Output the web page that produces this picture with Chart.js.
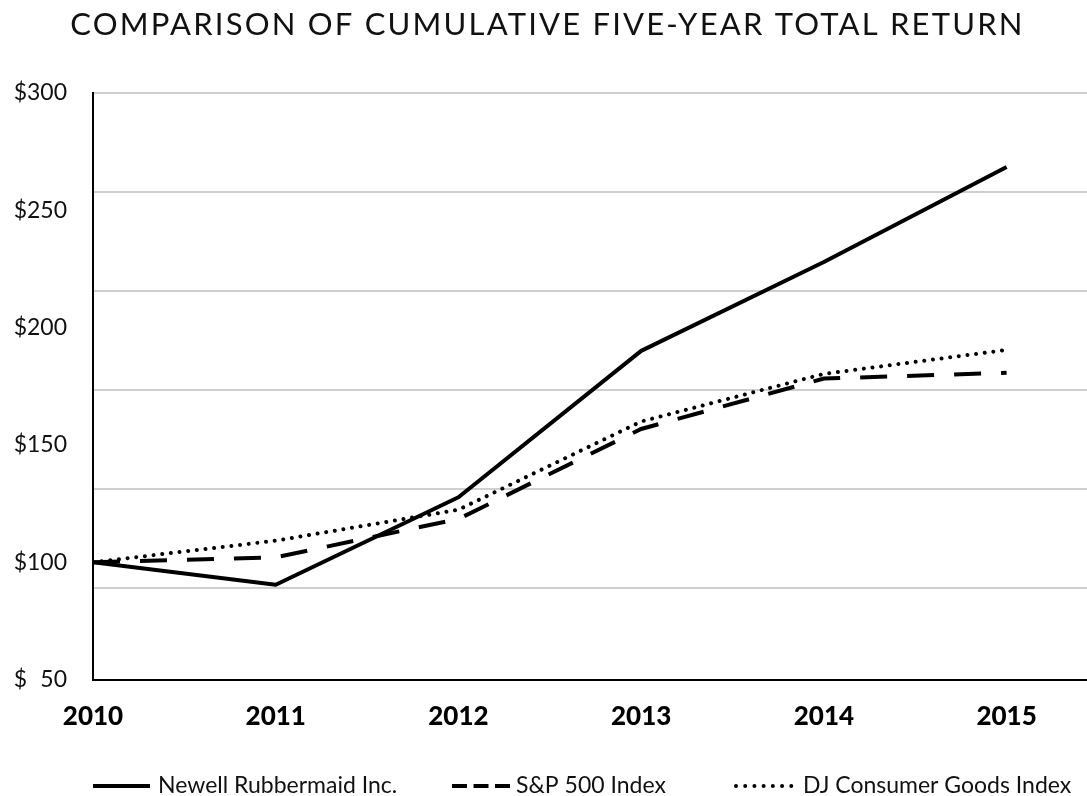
<!DOCTYPE html>
<html>
<head>
<meta charset="utf-8">
<script src="https://cdn.jsdelivr.net/npm/chart.js@4.4.1/dist/chart.umd.min.js"></script>
<style>
  html, body { margin: 0; padding: 0; background: #ffffff; }
  #wrap { width: 1087px; height: 796px; position: relative; }
</style>
</head>
<body>
<div id="wrap"><canvas id="c"></canvas></div>
<script>
// ---- data ----
const years = [2010, 2011, 2012, 2013, 2014, 2015];
const newell = [100, 90.4, 127.7, 190.1, 228.0, 268.5];
const sp500 = [100, 102.11, 118.45, 156.82, 178.29, 180.75];
const djConsumer = [100, 109.2, 122.4, 160.0, 180.3, 190.5];
const seriesNames = ['Newell Rubbermaid Inc.', 'S&P 500 Index', 'DJ Consumer Goods Index'];
const yTickValues = [50, 100, 150, 200, 250, 300];
const gridValues = [300, 257.8, 215.7, 173.5, 131.3, 89.2];
const titleText = 'COMPARISON OF CUMULATIVE FIVE-YEAR TOTAL RETURN';

const FONT = 'Lato, "Open Sans", sans-serif';

function points(vals) { return years.map((x, i) => ({ x: x, y: vals[i] })); }

// legend drawn at the bottom with line samples matching each series
const legendStyle = {
  y: 786,
  starts: [93, 452, 736],
  lengths: [57, 58, 57],
  textX: [158, 516, 803],
  dashes: [[], [15, 6.5], [0.01, 9.2]],
  caps: ['butt', 'butt', 'round'],
  fontSize: 23
};

const bottomLegend = {
  id: 'bottomLegend',
  afterDraw(chart) {
    const ctx = chart.ctx;
    const L = legendStyle;
    ctx.save();
    chart.data.datasets.forEach((ds, i) => {
      const x0 = L.starts[i];
      ctx.beginPath();
      ctx.setLineDash(L.dashes[i]);
      ctx.lineCap = L.caps[i];
      ctx.lineWidth = 4;
      ctx.strokeStyle = ds.borderColor;
      ctx.moveTo(x0, L.y);
      ctx.lineTo(x0 + L.lengths[i], L.y);
      ctx.stroke();
      ctx.setLineDash([]);
      ctx.fillStyle = '#111111';
      ctx.font = L.fontSize + 'px ' + FONT;
      ctx.textAlign = 'left';
      ctx.textBaseline = 'middle';
      ctx.fillText(ds.label, L.textX[i], L.y);
    });
    ctx.restore();
  }
};

// wider tracking for the title, like the reference typeface
const titleSpacing = {
  id: 'titleSpacing',
  beforeDraw(chart) {
    const t = chart.titleBlock;
    if (t && !t._spaced) {
      const orig = t.draw.bind(t);
      t.draw = function (area) {
        const ctx = chart.ctx;
        ctx.save();
        try { ctx.letterSpacing = '2.2px'; } catch (e) {}
        ctx.translate(4, 0);
        orig(area);
        ctx.restore();
      };
      t._spaced = true;
    }
  }
};

new Chart(document.getElementById('c'), {
  type: 'line',
  data: {
    datasets: [
      {
        label: seriesNames[0],
        data: points(newell),
        borderColor: '#000000',
        borderWidth: 4,
        borderJoinStyle: 'round',
        pointRadius: 0,
        tension: 0,
        yAxisID: 'y'
      },
      {
        label: seriesNames[1],
        data: points(sp500),
        borderColor: '#000000',
        borderWidth: 4,
        borderDash: [27, 20],
        pointRadius: 0,
        tension: 0,
        yAxisID: 'y'
      },
      {
        label: seriesNames[2],
        data: points(djConsumer),
        borderColor: '#000000',
        borderWidth: 4,
        borderDash: [0.01, 8.7],
        borderCapStyle: 'round',
        pointRadius: 0,
        tension: 0,
        yAxisID: 'y'
      }
    ]
  },
  options: {
    responsive: true,
    maintainAspectRatio: false,
    animation: false,
    layout: { padding: { left: 0, right: 0, top: 0, bottom: 42 } },
    plugins: {
      legend: { display: false },
      tooltip: { enabled: false },
      title: {
        display: true,
        text: titleText,
        color: '#111111',
        font: { family: FONT, size: 31, weight: 'normal' },
        padding: { top: 6, bottom: 49.8 }
      }
    },
    scales: {
      x: {
        type: 'linear',
        min: 2010,
        max: 2015.44,
        afterBuildTicks: s => { s.ticks = years.map(v => ({ value: v })); },
        grid: { display: false, drawTicks: false },
        border: { display: true, color: '#000000', width: 2 },
        ticks: {
          padding: 21.6,
          color: '#000000',
          autoSkip: false,
          maxRotation: 0,
          font: { family: FONT, size: 26, weight: 900 },
          callback: v => String(v)
        }
      },
      y: {
        type: 'linear',
        position: 'left',
        min: 50,
        max: 300,
        afterBuildTicks: s => { s.ticks = yTickValues.map(v => ({ value: v })); },
        afterFit: s => { s.width = 93; },
        grid: { display: false, drawTicks: false },
        border: { display: true, color: '#000000', width: 2 },
        ticks: {
          padding: 26,
          color: '#111111',
          font: { family: FONT, size: 23 },
          callback: v => (v < 100 ? '$\u2007' + v : '$' + v)
        }
      },
      yGrid: {
        type: 'linear',
        position: 'right',
        min: 50,
        max: 300,
        afterBuildTicks: s => { s.ticks = gridValues.map(v => ({ value: v })); },
        afterFit: s => { s.width = 0; },
        grid: { display: true, color: '#cfcfcf', lineWidth: 2, drawTicks: false },
        border: { display: false },
        ticks: { display: false }
      }
    }
  },
  plugins: [bottomLegend, titleSpacing]
});
</script>
</body>
</html>
